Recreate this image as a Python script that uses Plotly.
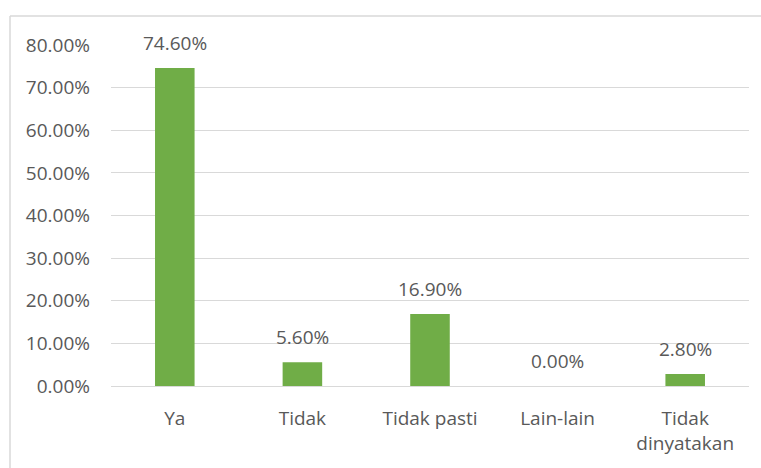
import plotly.graph_objects as go

categories = ["Ya", "Tidak", "Tidak pasti", "Lain-lain", "Tidak<br>dinyatakan"]
values = [74.6, 5.6, 16.9, 0.0, 2.8]
tick_vals = [0, 10, 20, 30, 40, 50, 60, 70, 80]
tick_text = ["0.00%", "10.00%", "20.00%", "30.00%", "40.00%", "50.00%", "60.00%", "70.00%", "80.00%"]
labels = [f"{v:.2f}%" for v in values]

W, H = 761, 468
L, R, T, B = 111, 12, 45, 82
pw, ph = W - L - R, H - T - B
FONT = "Open Sans"
GREY = "#595959"
FS = 19

fig = go.Figure(go.Bar(
    x=categories, y=values,
    marker=dict(color="#70AD47", line=dict(width=0)),
    hoverinfo="skip",
))

for c, v, t in zip(categories, values, labels):
    fig.add_annotation(x=c, y=v, text=t, showarrow=False, yanchor="bottom",
                       yshift=10, font=dict(family=FONT, size=FS, color=GREY))

fig.update_layout(
    width=W, height=H,
    margin=dict(l=L, r=R, t=T, b=B, autoexpand=False),
    paper_bgcolor="white", plot_bgcolor="white",
    bargap=0.69,
    showlegend=False,
    font=dict(family=FONT, size=FS, color=GREY),
    xaxis=dict(showgrid=False, showline=False, ticks="", automargin=False,
               ticklabelstandoff=19, tickfont=dict(family=FONT, size=FS, color=GREY)),
    yaxis=dict(range=[0, 80], tickvals=tick_vals, ticktext=tick_text, automargin=False,
               showgrid=True, gridcolor="#D9D9D9", gridwidth=1,
               zeroline=True, zerolinecolor="#D9D9D9", zerolinewidth=1,
               showline=False, ticks="", ticklabelstandoff=20,
               tickfont=dict(family=FONT, size=FS, color=GREY)),
)

# chart-area border (left and top edges)
x_left = (10 - L) / pw
y_top = 1 + (T - 16) / ph
y_bot = -(H + 5 - (T + ph)) / ph
fig.add_shape(type="line", xref="paper", yref="paper", x0=x_left, x1=x_left, y0=y_bot, y1=y_top,
              line=dict(color="#D9D9D9", width=1.5))
fig.add_shape(type="line", xref="paper", yref="paper", x0=x_left, x1=1 + (R + 5) / pw, y0=y_top, y1=y_top,
              line=dict(color="#D9D9D9", width=1.5))

fig.write_html("out.html", config={"displayModeBar": False},
               post_script="document.body.style.margin='0';document.body.style.overflow='hidden';")
